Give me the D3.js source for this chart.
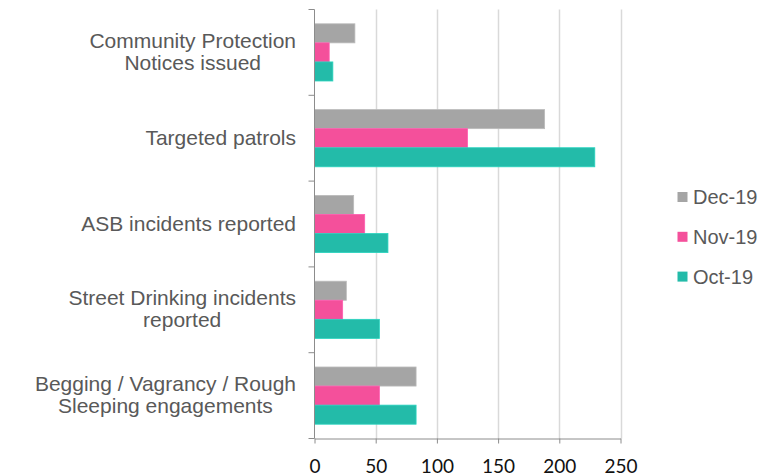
<!DOCTYPE html>
<html>
<head>
<meta charset="utf-8">
<script src="https://cdn.jsdelivr.net/npm/d3@7"></script>
<style>
  html, body { margin: 0; padding: 0; background: #fff; }
  svg { display: block; }
</style>
</head>
<body>
<svg id="chart" width="762" height="474"></svg>
<script>
// Categories, top to bottom
const categories = [
  ["Community Protection", "Notices issued"],
  ["Targeted patrols"],
  ["ASB incidents reported"],
  ["Street Drinking incidents", "reported"],
  ["Begging / Vagrancy / Rough", "Sleeping engagements"]
];
const seriesNames = ["Dec-19", "Nov-19", "Oct-19"];
const seriesColors = ["#A5A5A5", "#F4509B", "#23BBA9"];
const dec19 = [33, 188, 32, 26, 83];
const nov19 = [12, 125, 41, 23, 53];
const oct19 = [15, 229, 60, 53, 83];
const xTicks = [0, 50, 100, 150, 200, 250];

const seriesValues = [dec19, nov19, oct19];
const catKeys = categories.map(c => c.join(" "));

const svg = d3.select("#chart");
const plotLeft = 314.5, plotRight = 620.5, plotTop = 9.5, plotBottom = 438.5;

const x = d3.scaleLinear().domain([0, 250]).range([plotLeft, plotRight]);
const y0 = d3.scaleBand().domain(catKeys).range([plotTop, plotBottom])
  .paddingInner(1 / 3).paddingOuter(1 / 6);
const y1 = d3.scaleBand().domain(seriesNames).range([0, y0.bandwidth()]);
const step = y0.step();

// vertical gridlines
svg.append("g").selectAll("line")
  .data(xTicks.filter(t => t > 0))
  .join("line")
  .attr("x1", d => Math.round(x(d)) + 0.5).attr("x2", d => Math.round(x(d)) + 0.5)
  .attr("y1", plotTop).attr("y2", plotBottom)
  .attr("stroke", "#D9D9D9").attr("stroke-width", 1.5);

// bars
const rows = [];
catKeys.forEach((c, i) => {
  seriesNames.forEach((s, j) => rows.push({ cat: c, series: s, value: seriesValues[j][i], color: seriesColors[j] }));
});
svg.append("g").selectAll("rect")
  .data(rows)
  .join("rect")
  .attr("x", x(0))
  .attr("y", d => y0(d.cat) + y1(d.series))
  .attr("width", d => x(d.value) - x(0))
  .attr("height", y1.bandwidth())
  .attr("fill", d => d.color)
  .attr("stroke", d => d3.color(d.color).brighter(0.35))
  .attr("stroke-width", 0.8);

// x axis
const xAxis = svg.append("g")
  .attr("transform", `translate(0,${plotBottom})`)
  .call(d3.axisBottom(x).tickValues(xTicks).tickSize(5).tickSizeOuter(0));
xAxis.select(".domain").attr("stroke", "#8C8C8C");
xAxis.selectAll(".tick line").attr("stroke", "#8C8C8C");
xAxis.selectAll(".tick text")
  .attr("y", 34.3).attr("dy", 0)
  .attr("fill", "#111")
  .style("font-family", "Lato, 'Open Sans', sans-serif")
  .style("font-size", "19px");

// y axis line with ticks at category boundaries
const yAxis = svg.append("g");
yAxis.append("line")
  .attr("x1", plotLeft).attr("x2", plotLeft).attr("y1", plotTop).attr("y2", plotBottom)
  .attr("stroke", "#8C8C8C");
const bounds = d3.range(catKeys.length + 1).map(i => plotTop + i * step);
yAxis.selectAll(".yt").data(bounds).join("line").attr("class", "yt")
  .attr("x1", plotLeft - 6).attr("x2", plotLeft)
  .attr("y1", d => d).attr("y2", d => d)
  .attr("stroke", "#8C8C8C");

// category labels: block right-aligned next to the axis, lines centred within it
const labels = svg.append("g")
  .style("font-family", "'Liberation Sans', Arial, sans-serif")
  .style("font-size", "21px")
  .attr("fill", "#595959")
  .attr("text-anchor", "middle");
const labelRight = 296;
categories.forEach((lines, i) => {
  const cy = y0(catKeys[i]) + y0.bandwidth() / 2;
  const t = labels.append("text");
  const spans = lines.map((ln, k) => t.append("tspan")
    .attr("y", cy + 6.5 + (k - (lines.length - 1) / 2) * 22)
    .text(ln));
  const maxW = d3.max(spans, s => s.node().getComputedTextLength());
  spans.forEach(s => s.attr("x", labelRight - maxW / 2));
});

// legend
const legend = svg.append("g")
  .style("font-family", "'Liberation Sans', Arial, sans-serif")
  .style("font-size", "20px")
  .attr("fill", "#595959");
seriesNames.forEach((s, j) => {
  const ly = 192 + j * 39.8;
  legend.append("rect").attr("x", 677.5).attr("y", ly).attr("width", 10).attr("height", 10)
    .attr("fill", seriesColors[j]);
  legend.append("text").attr("x", 693).attr("y", ly + 12.3).text(s);
});
</script>
</body>
</html>
